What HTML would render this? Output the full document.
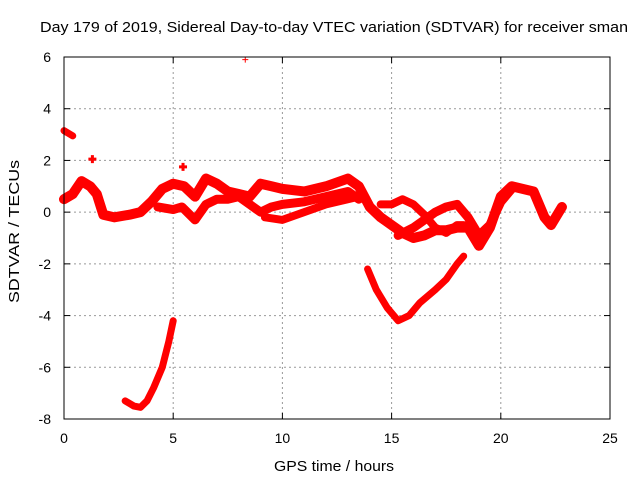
<!DOCTYPE html>
<html><head><meta charset="utf-8"><style>
body{margin:0;background:#fff;font-family:"Liberation Sans",sans-serif}
svg text{font-family:"Liberation Sans",sans-serif;font-size:14px;fill:#000}
</style></head><body>
<svg id="c" width="640" height="480" xmlns="http://www.w3.org/2000/svg">
<rect width="640" height="480" fill="#fff"/>
<text x="40" y="32" textLength="588" lengthAdjust="spacingAndGlyphs" style="font-size:15px">Day 179 of 2019, Sidereal Day-to-day VTEC variation (SDTVAR) for receiver sman</text>
<text x="274" y="471" textLength="120" lengthAdjust="spacingAndGlyphs" style="font-size:15px">GPS time / hours</text>
<text transform="translate(19,303) rotate(-90)" textLength="143" lengthAdjust="spacingAndGlyphs" style="font-size:15px">SDTVAR / TECUs</text>
<g id="grid"></g><g id="marks"></g>
<rect x="64" y="57" width="546" height="362" fill="none" stroke="#000" stroke-width="1"/>
<g id="ticks"></g>
</svg>
<script>
const xTicks=[0,5,10,15,20,25];
const yTicks=[-8,-6,-4,-2,0,2,4,6];
const s1h=[0,0.4,0.8,1.2,1.5,1.8,2.3,3,3.5,4,4.5,5,5.5,6,6.5,7,7.5,8,8.5,9,9.5,10,11,12,13,13.5,14,14.5,15,15.5,16,16.5,17,17.5,18,18.5,19,19.5,20,20.5,21,21.5,22,22.3,22.8];
const s1v=[0.5,0.7,1.2,1.0,0.7,-0.1,-0.2,-0.1,0.0,0.4,0.9,1.1,1.0,0.6,1.3,1.1,0.8,0.7,0.6,1.1,1.0,0.9,0.8,1.0,1.3,1.0,0.2,-0.2,-0.5,-0.8,-1.0,-0.9,-0.7,-0.7,-0.6,-0.6,-1.3,-0.6,0.6,1.0,0.9,0.8,-0.2,-0.5,0.2];
const s2h=[4.3,5,5.4,6,6.5,7,7.5,8,8.5,9,9.5,10,11,12,13,13.5];
const s2v=[0.2,0.1,0.2,-0.3,0.3,0.5,0.5,0.6,0.3,0.0,0.2,0.3,0.4,0.6,0.8,0.5];
const s3h=[9.2,10,11,12,13,13.5];
const s3v=[-0.2,-0.3,0.0,0.3,0.5,0.6];
const s4h=[14.5,15,15.5,16,16.5,17,17.5,18,18.3];
const s4v=[0.3,0.3,0.5,0.3,-0.1,-0.6,-0.8,-0.5,-0.5];
const s5h=[15.3,16,16.5,17,17.5,18,18.5,19,19.5,20,20.5];
const s5v=[-0.9,-0.6,-0.3,0.0,0.2,0.3,-0.2,-0.9,-0.5,0.4,0.9];
const s6h=[13.9,14.3,14.8,15.3,15.8,16.3,17,17.5,18,18.3];
const s6v=[-2.2,-3.0,-3.7,-4.2,-4.0,-3.5,-3.0,-2.6,-2.0,-1.7];
const s7h=[2.8,3.2,3.5,3.8,4.1,4.5,4.8,5.0];
const s7v=[-7.3,-7.5,-7.55,-7.3,-6.8,-6.0,-5.0,-4.2];
const s8h=[0,0.2,0.4];
const s8v=[3.15,3.05,2.95];
const dotsH=[1.3,5.45,8.3];
const dotsV=[2.05,1.75,5.9];
const X=h=>64+h*546/25, Y=v=>57+(6-v)*362/14;
const NS="http://www.w3.org/2000/svg";
const g=document.getElementById('grid'),m=document.getElementById('marks'),t=document.getElementById('ticks');
function mk(tag,a,p){const e=document.createElementNS(NS,tag);for(const k in a)e.setAttribute(k,a[k]);p.appendChild(e);return e;}
xTicks.forEach(v=>{
  if(v>0&&v<25){const l=mk('line',{x1:X(v),x2:X(v),y1:57,y2:419,stroke:'#999','stroke-dasharray':'2,3'},g);
  
  }
  mk('line',{x1:X(v),x2:X(v),y1:419,y2:413,stroke:'#000'},t);
  mk('line',{x1:X(v),x2:X(v),y1:57,y2:63,stroke:'#000'},t);
  const tx=mk('text',{x:X(v),y:443,'text-anchor':'middle'},t);tx.textContent=v;
  
  
});
yTicks.forEach(v=>{
  if(v>-8&&v<6){const l=mk('line',{x1:64,x2:610,y1:Y(v),y2:Y(v),stroke:'#999','stroke-dasharray':'2,3'},g);
  
  }
  mk('line',{x1:64,x2:70,y1:Y(v),y2:Y(v),stroke:'#000'},t);
  mk('line',{x1:610,x2:604,y1:Y(v),y2:Y(v),stroke:'#000'},t);
  const tx=mk('text',{x:51,y:Y(v)+5,'text-anchor':'end'},t);tx.textContent=v;
  
  
});
const series=[[s1h,s1v,10],[s2h,s2v,9],[s3h,s3v,8],[s4h,s4v,8],[s5h,s5v,9],[s6h,s6v,7],[s7h,s7v,7],[s8h,s8v,7]];
series.forEach(([hs,vs,w])=>{
  const pts=hs.map((h,i)=>X(h)+','+Y(vs[i])).join(' ');
  const p=mk('polyline',{points:pts,fill:'none',stroke:'#f00','stroke-width':w,'stroke-linejoin':'round','stroke-linecap':'round'},m);
  
  
});
dotsH.forEach((h,i)=>{
  const x=X(h),y=Y(dotsV[i]),r=i==2?3:4;
  const p=mk('path',{d:`M${x-r},${y}H${x+r}M${x},${y-r}V${y+r}`,stroke:'#f00','stroke-width':i==2?1:3},m);
  
  
});
</script>
</body></html>
